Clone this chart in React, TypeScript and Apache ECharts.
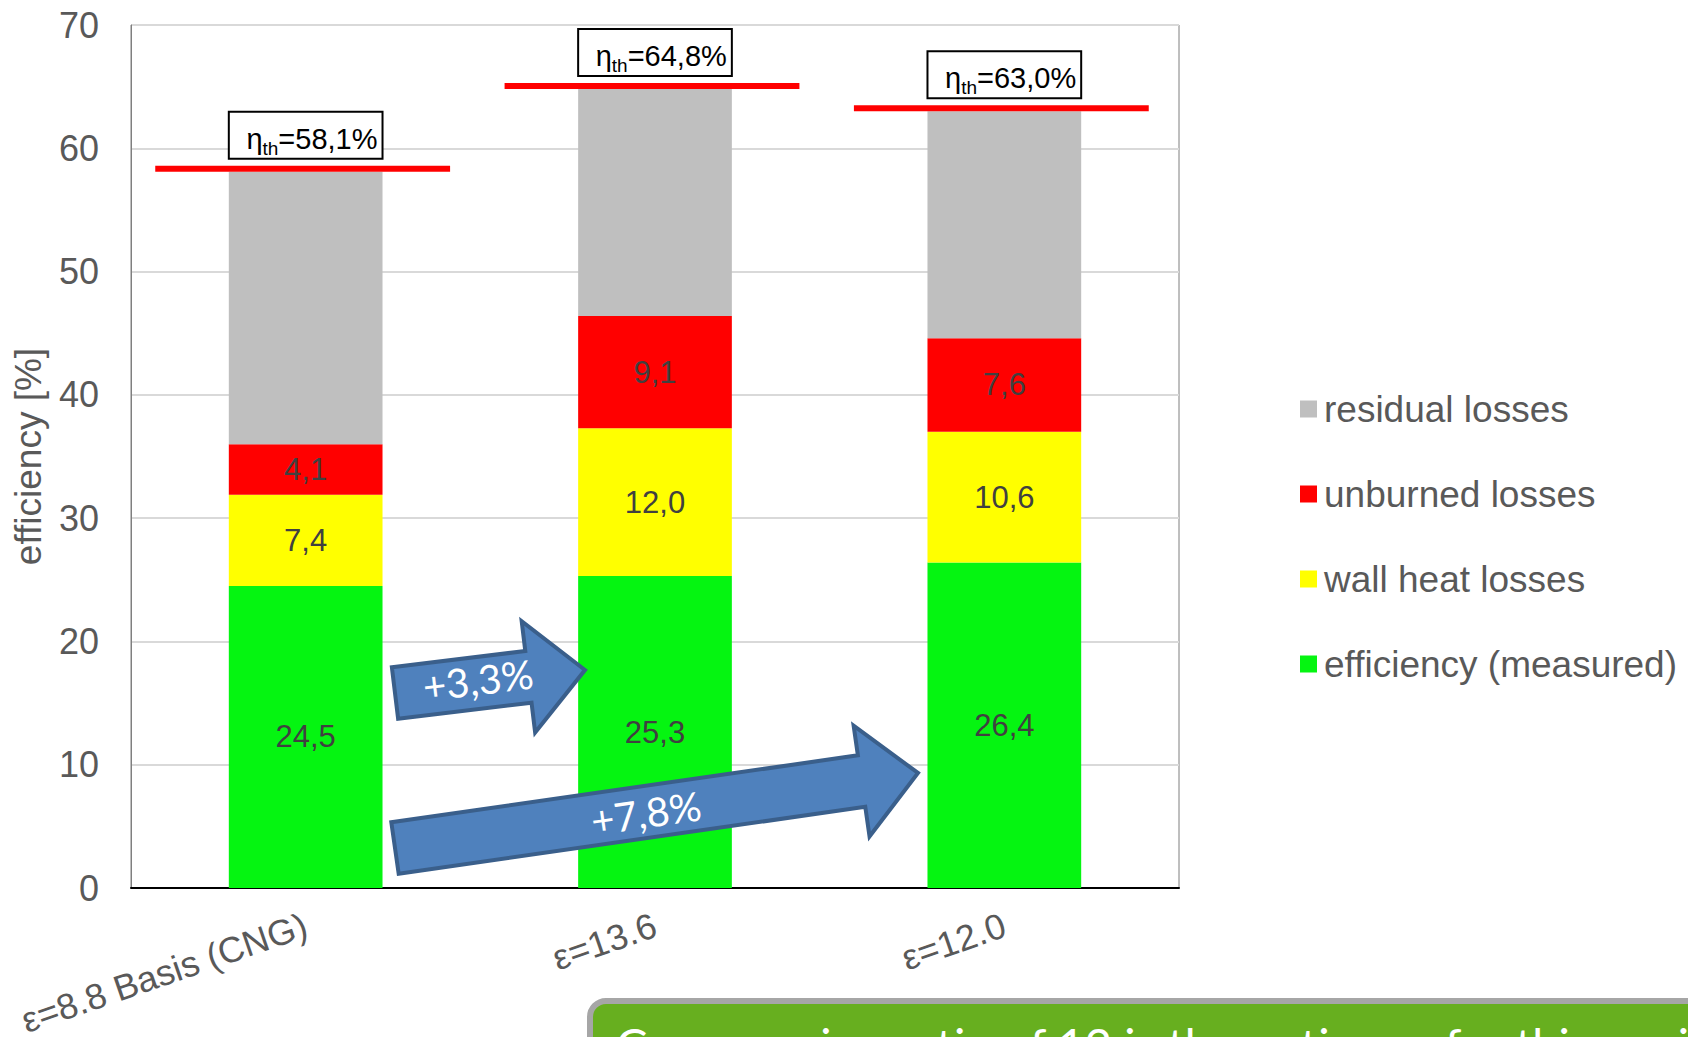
import React, { useEffect, useRef } from "react";
import * as echarts from "echarts";

// Categories and stacked segment values (percent of fuel energy)
const categories = ["ε=8.8 Basis (CNG)", "ε=13.6", "ε=12.0"];
const efficiencyMeasured = [24.5, 25.3, 26.4];
const wallHeatLosses = [7.4, 12.0, 10.6];
const unburnedLosses = [4.1, 9.1, 7.6];
const residualLosses = [22.1, 18.4, 18.4];
// Thermal efficiency (top of each stack)
const thermalEfficiency = [58.1, 64.8, 63.0];

const seriesNames = ["efficiency (measured)", "wall heat losses", "unburned losses", "residual losses"];
const seriesColors = ["#05F511", "#FFFF00", "#FF0000", "#BFBFBF"];

const yMin = 0;
const yMax = 70;
const yStep = 10;

const arrowLabels = ["+3,3%", "+7,8%"];
const noteText = "Compression ratio of 12 is the optimum for this engine";

const fmt = (v: number) => v.toFixed(1).replace(".", ",");

function arrowPoints(
  tail: number[],
  tip: number[],
  shaftHalf: number,
  headHalf: number,
  headLen: number
) {
  const dx = tip[0] - tail[0];
  const dy = tip[1] - tail[1];
  const len = Math.hypot(dx, dy);
  const ux = dx / len;
  const uy = dy / len;
  const nx = -uy;
  const ny = ux;
  const hb = [tip[0] - ux * headLen, tip[1] - uy * headLen];
  return [
    [tail[0] + nx * shaftHalf, tail[1] + ny * shaftHalf],
    [hb[0] + nx * shaftHalf, hb[1] + ny * shaftHalf],
    [hb[0] + nx * headHalf, hb[1] + ny * headHalf],
    [tip[0], tip[1]],
    [hb[0] - nx * headHalf, hb[1] - ny * headHalf],
    [hb[0] - nx * shaftHalf, hb[1] - ny * shaftHalf],
    [tail[0] - nx * shaftHalf, tail[1] - ny * shaftHalf],
  ];
}

function arrowGraphic(tail: number[], tip: number[], label: string, labelPos: number[]) {
  const angle = Math.atan2(-(tip[1] - tail[1]), tip[0] - tail[0]);
  return [
    {
      type: "polygon",
      z: 20,
      shape: { points: arrowPoints(tail, tip, 26, 56, 57) },
      style: { fill: "#4F81BD", stroke: "#3A5F8B", lineWidth: 4 },
    },
    {
      type: "text",
      z: 21,
      x: labelPos[0],
      y: labelPos[1],
      rotation: angle,
      style: {
        text: label,
        fill: "#FFFFFF",
        font: "40px Lato, 'Open Sans', sans-serif",
        align: "center",
        verticalAlign: "middle",
      },
    },
  ];
}

export default function App() {
  const ref = useRef<HTMLDivElement>(null);

  useEffect(() => {
    if (!ref.current) return;
    const chart = echarts.init(ref.current, undefined, { renderer: "svg" });

    const labelStyle = {
      show: true,
      position: "inside",
      color: "#404040",
      fontSize: 31,
      fontFamily: "'Liberation Sans', Arial, sans-serif",
      formatter: (p: any) => fmt(p.value),
    };

    const stackData = [efficiencyMeasured, wallHeatLosses, unburnedLosses, residualLosses];

    const barSeries = stackData.map((d, i) => ({
      name: seriesNames[i],
      type: "bar",
      stack: "total",
      barWidth: "44%",
      data: d,
      itemStyle: { color: seriesColors[i] },
      label: i < 3 ? labelStyle : { show: false },
      z: 2,
    }));

    const totalSeries = {
      name: "ηth",
      type: "custom",
      coordinateSystem: "cartesian2d",
      clip: false,
      z: 10,
      data: thermalEfficiency.map((v, i) => [i, v]),
      encode: { x: 0, y: 1 },
      renderItem: (_params: any, api: any) => {
        const idx = api.value(0);
        const val = api.value(1);
        const pt = api.coord([idx, val]);
        const catW = api.size([1, 0])[0];
        const barW = catW * 0.44;
        const halfLine = catW * 0.422;
        const boxBottom = pt[1] - 13;
        const boxH = 47;
        const boxCenter = boxBottom - boxH / 2;
        const narrow = "'Liberation Sans Narrow', 'Liberation Sans', sans-serif";
        return {
          type: "group",
          children: [
            {
              type: "rect",
              shape: { x: pt[0] - halfLine - 3, y: pt[1] - 6, width: halfLine * 2, height: 6 },
              style: { fill: "#FF0000" },
            },
            {
              type: "rect",
              shape: { x: pt[0] - barW / 2, y: boxBottom - boxH, width: barW, height: boxH },
              style: { fill: "#FFFFFF", stroke: "#000000", lineWidth: 2 },
            },
            {
              type: "text",
              x: pt[0] + barW / 2 - 5,
              y: boxCenter + 13,
              style: {
                text: "{eta|η}{sub|th}{main|=" + fmt(val) + "%}",
                align: "right",
                verticalAlign: "middle",
                rich: {
                  eta: { fontSize: 29, lineHeight: 28, verticalAlign: "top", fontFamily: narrow, fill: "#000000", color: "#000000" },
                  sub: { fontSize: 19, lineHeight: 48, fontFamily: narrow, fill: "#000000", color: "#000000" },
                  main: { fontSize: 29, lineHeight: 28, verticalAlign: "top", fontFamily: narrow, fill: "#000000", color: "#000000" },
                },
              },
            },
          ],
        };
      },
    };

    const graphics: any[] = [
      ...arrowGraphic([395, 693], [585, 670], arrowLabels[0], [478, 680]),
      ...arrowGraphic([395, 848], [918, 773], arrowLabels[1], [646, 813]),
      {
        type: "rect",
        z: 30,
        shape: { x: 590, y: 1001, width: 1200, height: 120, r: 16 },
        style: { fill: "#67AF1F", stroke: "#A6A6A6", lineWidth: 6 },
      },
      {
        type: "text",
        z: 31,
        x: 616,
        y: 1020,
        style: {
          text: noteText,
          fill: "#FFFFFF",
          font: "47px Lato, 'Open Sans', sans-serif",
          align: "left",
          verticalAlign: "top",
        },
      },
    ];

    chart.setOption({
      animation: false,
      backgroundColor: "#FFFFFF",
      textStyle: { fontFamily: "'Liberation Sans', Arial, sans-serif" },
      grid: {
        left: 131,
        top: 25,
        width: 1048,
        height: 863,
        containLabel: false,
        outerBoundsMode: "none",
        show: true,
        borderColor: "#7F7F7F",
        borderWidth: 1,
        backgroundColor: "transparent",
      },
      legend: {
        orient: "vertical",
        left: 1295,
        top: 382,
        itemWidth: 17,
        itemHeight: 17,
        itemGap: 41,
        icon: "rect",
        data: ["residual losses", "unburned losses", "wall heat losses", "efficiency (measured)"],
        textStyle: {
          color: "#595959",
          fontSize: 37,
          lineHeight: 44,
          padding: [0, 0, 0, 2],
          fontFamily: "'Liberation Sans', Arial, sans-serif",
        },
      },
      xAxis: {
        type: "category",
        data: categories,
        axisLine: { show: true, lineStyle: { color: "#000000", width: 2 } },
        axisTick: { show: false },
        axisLabel: {
          interval: 0,
          rotate: 19,
          margin: 36,
          color: "#595959",
          fontSize: 36,
          fontFamily: "'Liberation Sans', Arial, sans-serif",
        },
      },
      yAxis: {
        type: "value",
        min: yMin,
        max: yMax,
        interval: yStep,
        name: "efficiency [%]",
        nameLocation: "middle",
        nameGap: 84,
        nameTextStyle: {
          color: "#595959",
          fontSize: 37,
          fontFamily: "'Liberation Sans', Arial, sans-serif",
        },
        axisLine: { show: true, lineStyle: { color: "#7F7F7F", width: 1 } },
        axisTick: { show: false },
        axisLabel: {
          color: "#595959",
          fontSize: 36,
          margin: 32,
          fontFamily: "'Liberation Sans', Arial, sans-serif",
        },
        splitLine: { show: true, lineStyle: { color: "#D9D9D9", width: 2 } },
      },
      series: [...barSeries, totalSeries],
      graphic: graphics,
    });

    return () => chart.dispose();
  }, []);

  return (
    <div
      ref={ref}
      style={{ position: "fixed", left: 0, top: 0, width: 1688, height: 1037, background: "#FFFFFF" }}
    />
  );
}
